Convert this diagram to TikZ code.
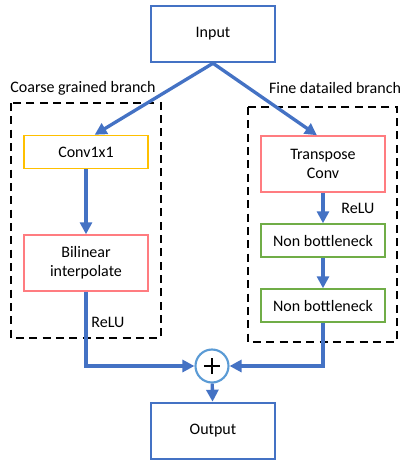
\documentclass[tikz,border=0pt]{standalone}
\usepackage{fontspec}
\setmainfont{Carlito}
\usepackage{tikz}
\usetikzlibrary{calc,arrows.meta}
\definecolor{lineblue}{HTML}{4472C4}
\definecolor{ringblue}{HTML}{5B9BD5}
\definecolor{boxgold}{HTML}{FFC000}
\definecolor{boxpink}{HTML}{FF7C80}
\definecolor{boxgreen}{HTML}{70AD47}
\tikzset{
  blk/.style={draw, minimum width=93pt, align=center, inner sep=2pt},
  tall/.style={blk, minimum height=42pt},
  flat/.style={blk, minimum height=24.75pt},
  arr/.style={draw=lineblue, line width=2.5pt, -{Triangle[length=9pt,width=9pt]}},
  dashbox/.style={draw, line width=1.2pt, dash pattern=on 6pt off 4pt},
}
\begin{document}
\fontsize{12}{14}\selectfont
\begin{tikzpicture}[x=0.75pt, y=-0.75pt]
  \useasboundingbox (0,0) rectangle (401,462);
  \def\xl{86}
  \def\xm{213}
  \def\xr{323}

  % branch frames
  \draw[dashbox] (11,103) rectangle (161,338);
  \draw[dashbox] (248,107) rectangle (397,342);
  \node (cgb) at (83,88) {Coarse grained branch};
  \node (fdb) at (335,88) {Fine datailed branch};

  \node[tall, draw=lineblue, line width=1.9pt] (in)  at (\xm, 34) {Input};
  \node[tall, draw=lineblue, line width=1.9pt] (out) at (\xm, 431) {Output};

  \node[flat, draw=boxgold, line width=1.1pt] (conv) at (\xl, 152) {Conv1x1};
  \node[tall, draw=boxpink, line width=1.1pt] (bil)  at (\xl, 263) {Bilinear\\interpolate};

  \node[tall, draw=boxpink, line width=1.1pt]  (tconv) at (\xr, 164) {Transpose\\Conv};
  \node[flat, draw=boxgreen, line width=1.1pt] (nb1)   at (\xr, 240.5) {Non bottleneck};
  \node[flat, draw=boxgreen, line width=1.1pt] (nb2)   at (\xr, 305.5) {Non bottleneck};

  \node[circle, draw=ringblue, line width=1.6pt, minimum size=24.75pt, inner sep=0pt,
        path picture={
          \draw[black, line width=1.9pt] ($(path picture bounding box.center)+(-6pt,0)$) -- ($(path picture bounding box.center)+(6pt,0)$);
          \draw[black, line width=1.9pt] ($(path picture bounding box.center)+(0,-6pt)$) -- ($(path picture bounding box.center)+(0,6pt)$);
        }] (sum) at (212, 366) {};

  \node (relul) at (108, 322) {ReLU};
  \node (relur) at (358, 208) {ReLU};

  \draw[arr] (in.south) -- ([xshift=6.5pt]conv.north);
  \draw[arr] (in.south) -- ([xshift=-4.5pt]tconv.north);
  \draw[arr] (conv) -- (bil);
  \draw[arr] (tconv) -- (nb1);
  \draw[arr] (nb1) -- (nb2);
  \draw[arr] (bil.south) |- (sum.west);
  \draw[arr] (nb2.south) |- (sum.east);
  \draw[arr] (sum) -- (out);
\end{tikzpicture}
\end{document}
